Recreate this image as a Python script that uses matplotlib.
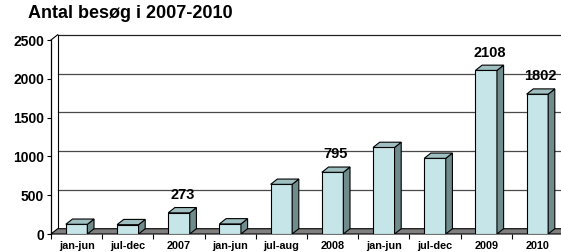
import matplotlib
matplotlib.use('Agg')
import matplotlib.pyplot as plt
from matplotlib.patches import Polygon

plt.rcParams['font.family'] = ['Liberation Sans', 'DejaVu Sans']

# data
categories = ['jan-jun', 'jul-dec', '2007', 'jan-jun', 'jul-aug', '2008',
              'jan-jun', 'jul-dec', '2009', '2010']
visits = [125, 120, 273, 130, 640, 795, 1115, 975, 2108, 1802]
labelled = [2, 5, 8, 9]   # totals that get a value label
y_ticks = [0, 500, 1000, 1500, 2000, 2500]

FRONT = '#c6e5e8'
TOP = '#9fbfc1'
SIDE = '#6f8b8b'
FLOOR = '#7f7f7f'

fig = plt.figure(figsize=(5.61, 2.52), dpi=100)
ax = fig.add_axes([51 / 561, 18 / 252, 512 / 561, 194 / 252])
ax.set_xlim(-0.5, 9.5)
ax.set_ylim(0, 2500)
for s in ax.spines.values():
    s.set_visible(False)

# depth of the fake 3d effect (in data units)
dx, dy = 0.13, 68
w = 0.42
x0, x1 = -0.5, 9.6

# back wall gridlines + left wall
for v in y_ticks[1:]:
    ax.plot([x0 + dx, x1 + dx], [v + dy, v + dy], color='#4a4a4a' if v < 2500 else '#222222',
            lw=0.9, clip_on=False, zorder=1)
ax.plot([x0, x0], [0, 2500], color='black', lw=0.9, clip_on=False, zorder=3)
ax.plot([x0 + dx, x0 + dx], [dy, 2500 + dy], color='black', lw=0.8, clip_on=False, zorder=1)
ax.plot([x0, x0 + dx], [2500, 2500 + dy], color='black', lw=0.8, clip_on=False, zorder=1)

# floor
ax.add_patch(Polygon([(x0, 0), (x1, 0), (x1 + dx, dy), (x0 + dx, dy)],
                     closed=True, facecolor=FLOOR, edgecolor='black', lw=0.8,
                     clip_on=False, zorder=2))

# bars
xs = list(range(len(categories)))
ax.bar(xs, visits, width=w, color=FRONT, edgecolor='black', linewidth=0.8, zorder=4)
for x, v in zip(xs, visits):
    l, r = x - w / 2, x + w / 2
    ax.add_patch(Polygon([(r, 0), (r + dx, dy), (r + dx, v + dy), (r, v)],
                         closed=True, facecolor=SIDE, edgecolor='black', lw=0.8, zorder=4))
    ax.add_patch(Polygon([(l, v), (l + dx, v + dy), (r + dx, v + dy), (r, v)],
                         closed=True, facecolor=TOP, edgecolor='black', lw=0.8, zorder=4))

for i in labelled:
    ax.annotate(str(visits[i]), (xs[i] + dx / 2, visits[i] + dy),
                xytext=(0, 4), textcoords='offset points', ha='center', va='bottom',
                fontsize=10.5, fontweight='bold', zorder=5)

# axes ticks
ax.set_yticks(y_ticks)
ax.set_yticklabels([str(t) for t in y_ticks], fontsize=10, fontweight='bold')
ax.tick_params(axis='y', length=3, width=0.8, pad=2)
ax.set_xticks(xs)
ax.set_xticklabels(categories, fontsize=7.8, fontweight='bold')
ax.set_xticks([x + 0.5 for x in range(-1, len(categories))], minor=True)
ax.tick_params(axis='x', which='major', length=0, pad=5)
ax.tick_params(axis='x', which='minor', length=3.5, width=0.8, direction='out')

fig.text(28 / 561, 1 - 14 / 252, 'Antal besøg i 2007-2010', fontsize=13,
         fontweight='bold', va='center', ha='left')

fig.savefig('out.png', dpi=100)
